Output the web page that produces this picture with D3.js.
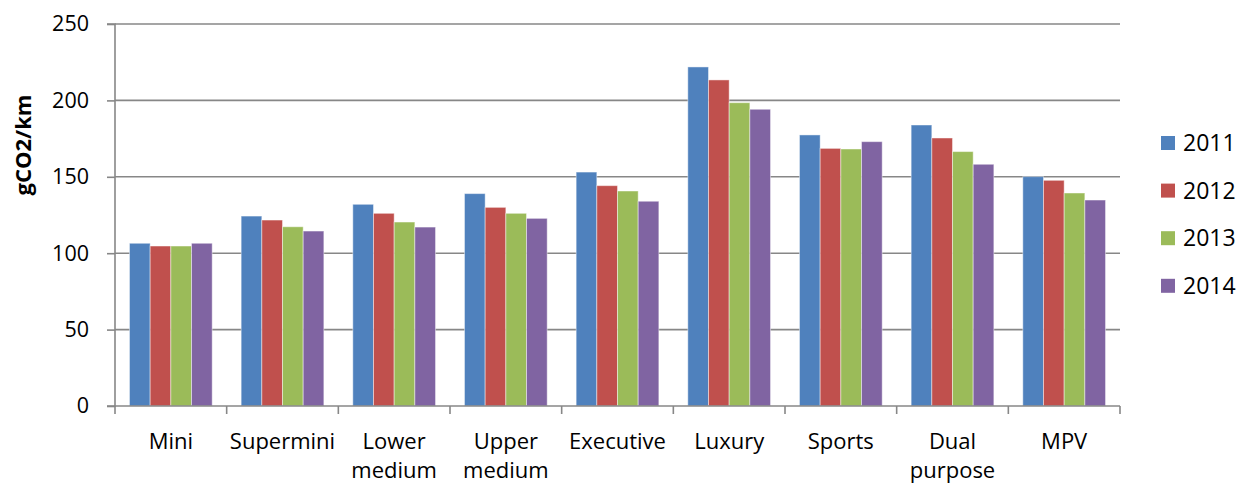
<!DOCTYPE html>
<html>
<head>
<meta charset="utf-8">
<script src="https://cdn.jsdelivr.net/npm/d3@7"></script>
<style>
  html, body { margin: 0; padding: 0; background: #fff; }
  svg { display: block; font-family: "Open Sans", "Noto Sans", sans-serif; }
</style>
</head>
<body>
<svg id="chart" width="1245" height="486"></svg>
<script>
// Car segments (label lines) and average CO2 emissions per year
const categories = [["Mini"], ["Supermini"], ["Lower", "medium"], ["Upper", "medium"], ["Executive"], ["Luxury"], ["Sports"], ["Dual", "purpose"], ["MPV"]];
const years = ["2011", "2012", "2013", "2014"];
const values2011 = [106.5, 124.3, 132.0, 139.0, 153.1, 221.9, 177.4, 183.9, 150.1];
const values2012 = [104.7, 121.7, 126.1, 130.0, 144.2, 213.4, 168.6, 175.4, 147.7];
const values2013 = [104.7, 117.3, 120.4, 126.1, 140.7, 198.5, 168.2, 166.5, 139.4];
const values2014 = [106.5, 114.5, 117.1, 122.8, 134.0, 194.2, 173.0, 158.2, 134.8];
const yTicks = [0, 50, 100, 150, 200, 250];
const colors = ["#4F81BD", "#C0504D", "#9BBB59", "#8064A2"];

const series = [values2011, values2012, values2013, values2014];
const catKeys = categories.map(c => c.join(" "));

const svg = d3.select("#chart");
const margin = { left: 115, right: 125, top: 24, bottom: 80 };
const W = 1245, H = 486;
const x0 = d3.scaleBand().domain(catKeys).range([margin.left, W - margin.right]).paddingInner(0).paddingOuter(0);
const x1 = d3.scaleBand().domain(years).range([0, x0.bandwidth()]).paddingOuter(0.7).paddingInner(0);
const y = d3.scaleLinear().domain([0, 250]).range([H - margin.bottom, margin.top]);

const gridColor = "#878787";

// horizontal gridlines
svg.append("g").selectAll("line").data(yTicks.filter(t => t > 0)).join("line")
  .attr("x1", margin.left).attr("x2", W - margin.right)
  .attr("y1", d => y(d)).attr("y2", d => y(d))
  .attr("stroke", gridColor).attr("stroke-width", 1.6);

// bars
const groups = svg.append("g").selectAll("g").data(catKeys).join("g")
  .attr("transform", d => `translate(${x0(d)},0)`);
groups.selectAll("rect").data((d, i) => years.map((yr, s) => ({ yr, s, v: series[s][i] }))).join("rect")
  .attr("x", d => x1(d.yr))
  .attr("width", x1.bandwidth())
  .attr("y", d => y(d.v))
  .attr("height", d => y(0) - y(d.v))
  .attr("fill", d => colors[d.s])
  .attr("stroke", "rgba(255,255,255,0.45)")
  .attr("stroke-width", 1);

// y axis
const yAxis = d3.axisLeft(y).tickValues(yTicks).tickSize(8).tickPadding(18);
const gy = svg.append("g").attr("transform", `translate(${margin.left},0)`).call(yAxis);
gy.selectAll("path, line").attr("stroke", gridColor).attr("stroke-width", 1.6);
gy.select(".domain").attr("d", `M-8,${y(250)}H0V${y(0)}H-8`);
gy.selectAll("text").attr("font-size", 21.5).attr("fill", "#000").attr("font-family", "Open Sans");

// x axis
const xAxis = d3.axisBottom(x0).tickSize(0).tickFormat(() => "");
const gx = svg.append("g").attr("transform", `translate(0,${y(0)})`).call(xAxis);
gx.select(".domain").attr("d", `M${margin.left},0H${W - margin.right}`).attr("stroke", gridColor).attr("stroke-width", 1.6);
// boundary ticks between categories
const bounds = catKeys.map(k => x0(k)).concat([W - margin.right]);
gx.append("g").selectAll("line").data(bounds).join("line")
  .attr("x1", d => d).attr("x2", d => d).attr("y1", 0).attr("y2", 8)
  .attr("stroke", gridColor).attr("stroke-width", 1.6);

// category labels
const labels = svg.append("g").selectAll("text").data(categories).join("text")
  .attr("text-anchor", "middle")
  .attr("font-size", 22)
  .attr("fill", "#000");
labels.each(function (lines, i) {
  const cx = x0(catKeys[i]) + x0.bandwidth() / 2;
  d3.select(this).selectAll("tspan").data(lines).join("tspan")
    .attr("x", cx)
    .attr("y", (d, j) => 449 + j * 29)
    .text(d => d);
});

// y axis title
svg.append("text")
  .attr("transform", `translate(31,145) rotate(-90)`)
  .attr("text-anchor", "middle")
  .attr("font-size", 22)
  .attr("font-weight", "bold")
  .attr("fill", "#000")
  .text("gCO2/km");

// legend
const legend = svg.append("g").selectAll("g").data(years).join("g")
  .attr("transform", (d, i) => `translate(1161,${143 + i * 47.6})`);
legend.append("rect").attr("x", 0).attr("y", -7).attr("width", 14).attr("height", 14)
  .attr("fill", (d, i) => colors[i]);
legend.append("text").attr("x", 22).attr("y", 0).attr("dy", "0.36em")
  .attr("font-size", 23).attr("fill", "#000").text(d => d);
</script>
</body>
</html>
